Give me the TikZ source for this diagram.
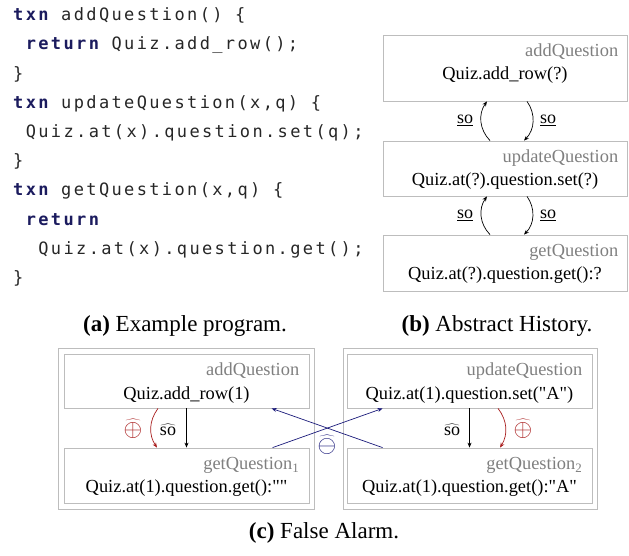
\RequirePackage{fix-cm}
\documentclass[tikz,border=0pt]{standalone}
\usepackage{fontspec}
\setmainfont{Liberation Serif}[Ligatures=TeXOff]
\newfontfamily\codefont[LetterSpace=13.9]{DejaVu Sans Mono}
\usetikzlibrary{arrows.meta,calc}
\definecolor{kw}{HTML}{1B1B5E}
\definecolor{codec}{HTML}{262626}
\definecolor{boxc}{HTML}{BDBDBD}
\definecolor{lblc}{HTML}{7F7F7F}
\definecolor{redc}{HTML}{A81C1C}
\definecolor{bluec}{HTML}{1A1A7A}
\begin{document}
\begin{tikzpicture}[x=1pt,y=-1pt,
  code/.style={anchor=base west,inner sep=0pt,text=codec,font=\codefont\fontsize{17}{19}\selectfont},
  hbox/.style={draw=boxc,line width=0.8pt,inner sep=0pt},
  lbl/.style={anchor=base east,inner sep=0pt,text=lblc,font=\fontsize{18.4}{20}\selectfont},
  mtxt/.style={anchor=base,inner sep=0pt,font=\fontsize{18.4}{20}\selectfont},
  elab/.style={inner sep=0pt,font=\fontsize{18}{20}\selectfont},
  slab/.style={inner sep=0pt,font=\fontsize{24}{26}\selectfont},
  arr/.style={-{Stealth[length=5pt,width=4pt]},line width=0.7pt},
  captxt/.style={anchor=base,inner sep=0pt,font=\fontsize{23}{25}\selectfont}]
\useasboundingbox (0,0) rectangle (629,556);
\newcommand\kwd[1]{{\bfseries\color{kw}#1}}
% ---------- (a) code ----------
\node[code] (c1) at (13,20.7) {\kwd{txn} addQuestion() \{};
\node[code] (c2) at (25.6,49.9) {\kwd{return} Quiz.add\_row();};
\node[code] (c3) at (13,79.1) {\}};
\node[code] (c4) at (13,108.3) {\kwd{txn} updateQuestion(x,q) \{};
\node[code] (c5) at (25.6,137.5) {Quiz.at(x).question.set(q);};
\node[code] (c6) at (13,166.7) {\}};
\node[code] (c7) at (13,195.9) {\kwd{txn} getQuestion(x,q) \{};
\node[code] (c8) at (25.6,225.1) {\kwd{return}};
\node[code] (c9) at (38.2,254.3) {Quiz.at(x).question.get();};
\node[code] (c10) at (13,283.5) {\}};
% ---------- (b) abstract history ----------
\node[hbox,minimum width=244pt,minimum height=66pt] (b1) at (505,68) {};
\node[hbox,minimum width=244pt,minimum height=55pt] (b2) at (505,168.5) {};
\node[hbox,minimum width=244pt,minimum height=56pt] (b3) at (505,263) {};
\node[lbl] (b1l) at ($(b1.north east)+(-9,22)$) {addQuestion};
\node[mtxt] (b1t) at ($(b1.north)+(0,45)$) {Quiz.add\_row(?)};
\node[lbl] (b2l) at ($(b2.north east)+(-9,22)$) {updateQuestion};
\node[mtxt] (b2t) at ($(b2.north)+(0,45)$) {Quiz.at(?).question.set(?)};
\node[lbl] (b3l) at ($(b3.north east)+(-9,22)$) {getQuestion};
\node[mtxt] (b3t) at ($(b3.north)+(0,45)$) {Quiz.at(?).question.get():?};
\draw[arr] ([xshift=-15pt]b2.north) to[bend left=40] ([xshift=-18pt]b1.south);
\draw[arr] ([xshift=22pt]b1.south) to[bend left=40] ([xshift=19pt]b2.north);
\draw[arr] ([xshift=-15pt]b3.north) to[bend left=40] ([xshift=-18pt]b2.south);
\draw[arr] ([xshift=22pt]b2.south) to[bend left=40] ([xshift=19pt]b3.north);
\node[elab] (s1) at (465,120) {\underline{so}};
\node[elab] (s2) at (548,120) {\underline{so}};
\node[elab] (s3) at (465,215) {\underline{so}};
\node[elab] (s4) at (548,215) {\underline{so}};
% ---------- captions ----------
\node[captxt] (capa) at (185,331) {\textbf{(a)} Example program.};
\node[captxt] (capb) at (497,331) {\textbf{(b)} Abstract History.};
\node[captxt] (capc) at (324,538) {\textbf{(c)} False Alarm.};
% ---------- (c) false alarm ----------
\node[hbox,minimum width=256pt,minimum height=161pt] (ol) at (186,428.5) {};
\node[hbox,minimum width=254pt,minimum height=161pt] (or) at (470,428.5) {};
\node[hbox,minimum width=245pt,minimum height=54pt] (cl1) at (186.5,381) {};
\node[hbox,minimum width=245pt,minimum height=55pt] (cl2) at (186.5,475.5) {};
\node[hbox,minimum width=245pt,minimum height=54pt] (cr1) at (469.5,381) {};
\node[hbox,minimum width=245pt,minimum height=55pt] (cr2) at (469.5,475.5) {};
\node[lbl] (cl1l) at ($(cl1.north east)+(-10,22)$) {addQuestion};
\node[mtxt] (cl1t) at ($(cl1.north)+(0,46)$) {Quiz.add\_row(1)};
\node[lbl] (cl2l) at ($(cl2.north east)+(-10,22)$) {getQuestion\textsubscript{1}};
\node[mtxt] (cl2t) at ($(cl2.north)+(0,45)$) {Quiz.at(1).question.get():""};
\node[lbl] (cr1l) at ($(cr1.north east)+(-10,22)$) {updateQuestion};
\node[mtxt] (cr1t) at ($(cr1.north)+(0,46)$) {Quiz.at(1).question.set("A")};
\node[lbl] (cr2l) at ($(cr2.north east)+(-10,22)$) {getQuestion\textsubscript{2}};
\node[mtxt] (cr2t) at ($(cr2.north)+(0,45)$) {Quiz.at(1).question.get():"A"};
\draw[arr] (cl1.south) -- (cl2.north);
\draw[arr] (cr1.south) -- (cr2.north);
\draw[arr,redc] ([xshift=-28.5pt]cl1.south) to[bend right=35] ([xshift=-29.5pt]cl2.north);
\draw[arr,redc] ([xshift=28.5pt]cr1.south) to[bend left=35] ([xshift=30.5pt]cr2.north);
\draw[arr,bluec] ([xshift=209pt]cl2.north west) -- ([xshift=36pt]cr1.south west);
\draw[arr,bluec] ([xshift=36pt]cr2.north west) -- ([xshift=208pt]cl1.south west);
\node[elab] (so1) at (168,430) {$\widehat{\mathrm{so}}$};
\node[elab] (so2) at (452,430) {$\widehat{\mathrm{so}}$};
\node[slab,text=redc] (op1) at (133,429) {$\widehat{\oplus}$};
\node[slab,text=redc] (op2) at (523,429) {$\widehat{\oplus}$};
\node[slab,text=bluec] (om) at (327,445) {$\widehat{\ominus}$};
\end{tikzpicture}
\end{document}
